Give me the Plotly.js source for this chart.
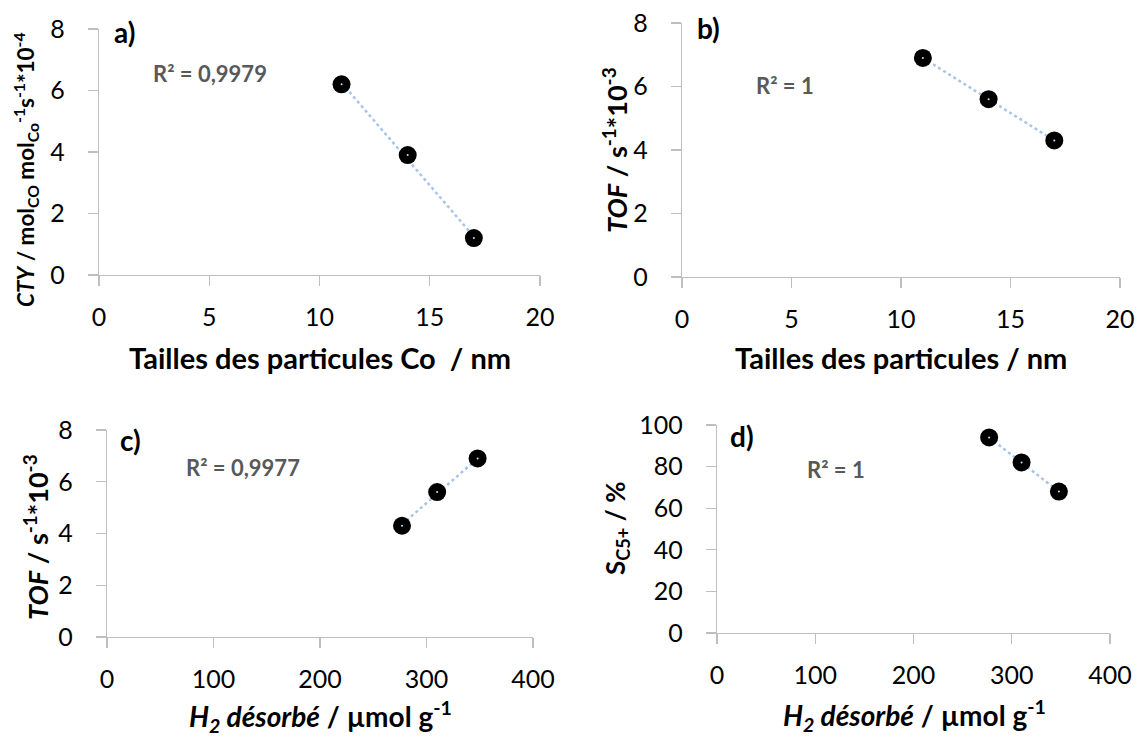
<!DOCTYPE html>
<html>
<head>
<meta charset="utf-8">
<script src="https://cdn.plot.ly/plotly-3.0.1.min.js"></script>
<style>html,body{margin:0;padding:0;background:#fff;}#chart{width:1138px;height:740px;}</style>
</head>
<body>
<div id="chart"></div>
<script>
// ---- data ----
const sizeNm = [11, 14, 17];
const ctyA = [6.2, 3.9, 1.2];
const tofB = [6.9, 5.6, 4.3];
const h2Des = [277, 310, 348];
const tofC = [4.3, 5.6, 6.9];
const sc5D = [94, 82, 68];
// trendline endpoints
const trendAx = [11, 17], trendAy = [6.25, 1.25];
const trendBx = [11, 17], trendBy = [6.9, 4.3];
const trendCx = [277, 348], trendCy = [4.35, 6.9];
const trendDx = [277, 348], trendDy = [94, 68];
const xTicksSize = [0, 5, 10, 15, 20];
const xTicksH2 = [0, 100, 200, 300, 400];
const yTicksTof = [0, 2, 4, 6, 8];
const yTicksS = [0, 20, 40, 60, 80, 100];

const W = 1138, H = 740;
const px = v => v / W;
const py = v => 1 - v / H;
const FONT = 'Lato, "Open Sans", sans-serif';
const trendColor = '#a9c4e8';

function pts(x, y, xa, ya) {
  return [
    {x: x, y: y, xaxis: xa, yaxis: ya, mode: 'markers', type: 'scatter',
     marker: {size: 18, color: '#000'}, hoverinfo: 'skip', showlegend: false},
    {x: x, y: y, xaxis: xa, yaxis: ya, mode: 'markers', type: 'scatter',
     marker: {size: 2, color: '#cfe0f5'}, hoverinfo: 'skip', showlegend: false}
  ];
}
function trend(x, y, xa, ya) {
  return {x: x, y: y, xaxis: xa, yaxis: ya, mode: 'lines', type: 'scatter',
    line: {color: trendColor, width: 2.5, dash: 'dot'}, hoverinfo: 'skip', showlegend: false};
}

const data = [
  trend(trendAx, trendAy, 'x', 'y'), ...pts(sizeNm, ctyA, 'x', 'y'),
  trend(trendBx, trendBy, 'x2', 'y2'), ...pts(sizeNm, tofB, 'x2', 'y2'),
  trend(trendCx, trendCy, 'x3', 'y3'), ...pts(h2Des, tofC, 'x3', 'y3'),
  trend(trendDx, trendDy, 'x4', 'y4'), ...pts(h2Des, sc5D, 'x4', 'y4')
];

function xax(l, r, anchor, ticks, range) {
  return {domain: [px(l), px(r)], anchor: anchor, range: range, tickvals: ticks,
    showline: true, linecolor: '#bfbfbf', linewidth: 1.3, ticks: 'outside', ticklen: 10,
    tickcolor: '#bfbfbf', tickwidth: 1.3, showgrid: false, zeroline: false,
    ticklabelstandoff: 10, tickfont: {family: FONT, size: 25, color: '#000'}, fixedrange: true};
}
function yax(t, b, anchor, ticks, range) {
  return {domain: [py(b), py(t)], anchor: anchor, range: range, tickvals: ticks,
    showline: true, linecolor: '#bfbfbf', linewidth: 1.3, ticks: 'outside', ticklen: 10,
    tickcolor: '#bfbfbf', tickwidth: 1.3, showgrid: false, zeroline: false,
    ticklabelstandoff: 18, tickfont: {family: FONT, size: 25, color: '#000'}, fixedrange: true};
}

function ann(text, x, y, size, opts) {
  return Object.assign({text: text, x: px(x), y: py(y), xref: 'paper', yref: 'paper',
    showarrow: false, xanchor: 'center', yanchor: 'middle',
    font: {family: FONT, size: size, color: '#000'}}, opts || {});
}
const gray = {family: FONT, size: 22, color: '#595959'};

const annotations = [
  // panel labels
  ann('<b>a)</b>', 124, 32, 28),
  ann('<b>b)</b>', 708, 28, 28),
  ann('<b>c)</b>', 130, 440, 28),
  ann('<b>d)</b>', 742, 436, 28),
  // R² labels
  Object.assign(ann('<b>R² = 0,9979</b>', 210, 74, 22), {font: gray}),
  Object.assign(ann('<b>R² = 1</b>', 785, 85, 22), {font: gray}),
  Object.assign(ann('<b>R² = 0,9977</b>', 243, 467, 22), {font: gray}),
  Object.assign(ann('<b>R² = 1</b>', 836, 470, 22), {font: gray}),
  // x titles
  ann('<b>Tailles des particules Co  / nm</b>', 320, 358, 29),
  ann('<b>Tailles des particules / nm</b>', 901, 358, 29),
  ann('<b><i>H<sub>2</sub> désorbé</i> / µmol g<sup>-1</sup></b>', 320, 716, 28),
  ann('<b><i>H<sub>2</sub> désorbé</i> / µmol g<sup>-1</sup></b>', 914, 715, 28),
  // y titles
  ann('<b><i>CTY</i> / mol<sub>CO</sub> mol<sub>Co</sub><sup>-1</sup>s<sup>-1</sup>*10<sup>-4</sup></b>', 25, 170, 22.5, {textangle: -90}),
  ann('<b><i>TOF</i> / s<sup>-1</sup>*10<sup>-3</sup></b>', 615, 150, 27, {textangle: -90}),
  ann('<b><i>TOF</i> / s<sup>-1</sup>*10<sup>-3</sup></b>', 36, 537, 27, {textangle: -90}),
  ann('<b>S<sub>C5+</sub> / %</b>', 616, 529, 26, {textangle: -90})
];

const layout = {
  width: W, height: H, margin: {l: 0, r: 0, t: 0, b: 0},
  paper_bgcolor: '#fff', plot_bgcolor: '#fff', showlegend: false,
  font: {family: FONT},
  xaxis: xax(99, 540, 'y', xTicksSize, [0, 20]),
  yaxis: yax(29, 275, 'x', yTicksTof, [0, 8]),
  xaxis2: xax(682, 1120, 'y2', xTicksSize, [0, 20]),
  yaxis2: yax(23, 277, 'x2', yTicksTof, [0, 8]),
  xaxis3: xax(107, 533, 'y3', xTicksH2, [0, 400]),
  yaxis3: yax(430, 637, 'x3', yTicksTof, [0, 8]),
  xaxis4: xax(717, 1110, 'y4', xTicksH2, [0, 400]),
  yaxis4: yax(425, 633, 'x4', yTicksS, [0, 100]),
  annotations: annotations
};

Plotly.newPlot('chart', data, layout, {displayModeBar: false, staticPlot: true});
</script>
</body>
</html>
